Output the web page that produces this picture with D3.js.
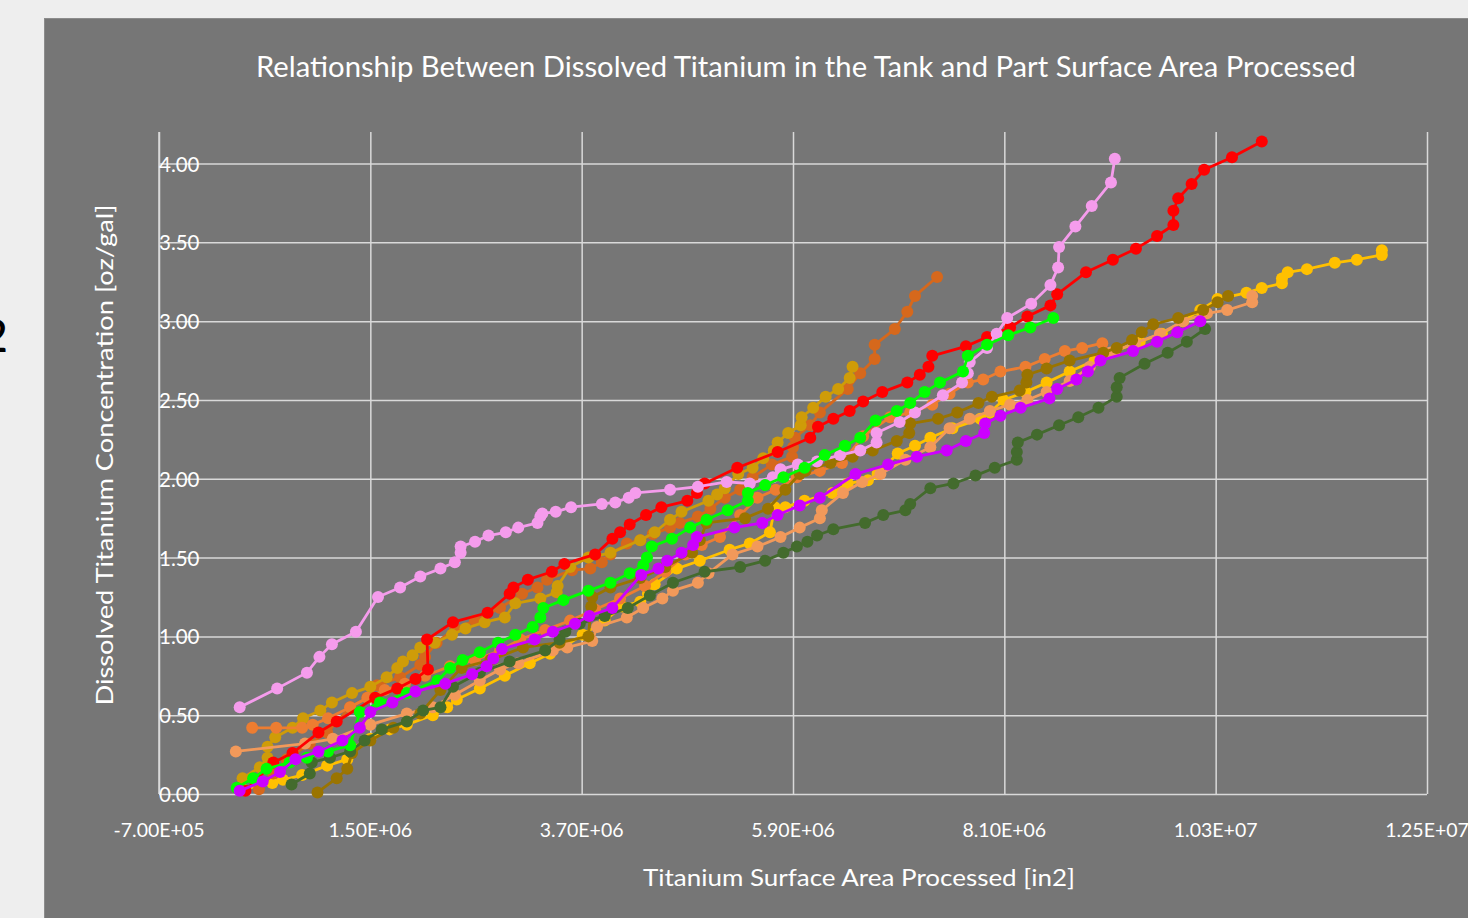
<!DOCTYPE html>
<html>
<head>
<meta charset="utf-8">
<script src="https://cdn.jsdelivr.net/npm/d3@7"></script>
<style>
  html, body { margin: 0; padding: 0; background: #eeeeee; }
  svg { display: block; }
  text { font-family: Lato, "Open Sans", sans-serif; }
</style>
</head>
<body>
<svg id="chart" width="1468" height="918"></svg>
<script>
// ---------------- DATA (x in millions of in2, y in oz/gal) ----------------
const chartTitle = "Relationship Between Dissolved Titanium in the Tank and Part Surface Area Processed";
const xAxisTitle = "Titanium Surface Area Processed [in2]";
const yAxisTitle = "Dissolved Titanium Concentration [oz/gal]";

const xTickValues = [-0.7e6, 1.5e6, 3.7e6, 5.9e6, 8.1e6, 10.3e6, 12.5e6];
const xTickLabels = ["-7.00E+05", "1.50E+06", "3.70E+06", "5.90E+06", "8.10E+06", "1.03E+07", "1.25E+07"];
const yTickValues = [0, 0.5, 1.0, 1.5, 2.0, 2.5, 3.0, 3.5, 4.0];
const yTickLabels = ["0.00", "0.50", "1.00", "1.50", "2.00", "2.50", "3.00", "3.50", "4.00"];

const darkOrangeData = [[0.34,0.03],[0.49,0.13],[0.63,0.22],[0.87,0.32],[1.05,0.39],[1.29,0.55],[1.47,0.61],[1.57,0.69],[1.81,0.74],[2.02,0.82],[2.07,0.87],[2.19,0.96],[2.38,1.05],[2.59,1.10],[2.85,1.18],[3.08,1.27],[3.24,1.31],[3.34,1.36],[3.60,1.42],[3.79,1.43],[3.91,1.47],[4.00,1.52],[4.17,1.59],[4.31,1.61],[4.44,1.65],[4.62,1.69],[4.72,1.72],[4.91,1.76],[5.04,1.81],[5.19,1.88],[5.35,1.93],[5.48,2.01],[5.68,2.09],[5.89,2.14],[5.90,2.20],[5.92,2.26],[6.08,2.34],[6.18,2.42],[6.47,2.57],[6.60,2.67],[6.75,2.76],[6.75,2.85],[6.96,2.95],[7.09,3.06],[7.17,3.16],[7.40,3.28]];

const goldData = [[0.17,0.10],[0.35,0.17],[0.43,0.23],[0.43,0.30],[0.51,0.36],[0.69,0.42],[0.80,0.48],[0.98,0.53],[1.10,0.58],[1.31,0.64],[1.50,0.68],[1.67,0.74],[1.78,0.80],[1.84,0.84],[1.94,0.88],[2.02,0.93],[2.17,0.96],[2.35,1.01],[2.49,1.05],[2.69,1.09],[2.90,1.12],[3.01,1.21],[3.27,1.24],[3.44,1.28],[3.45,1.32],[3.58,1.44],[3.77,1.50],[4.00,1.53],[4.31,1.61],[4.46,1.66],[4.62,1.74],[4.74,1.79],[5.02,1.86],[5.11,1.90],[5.19,1.94],[5.33,2.03],[5.48,2.07],[5.59,2.13],[5.70,2.18],[5.74,2.23],[5.85,2.29],[5.98,2.34],[5.99,2.39],[6.11,2.45],[6.24,2.52],[6.37,2.57],[6.49,2.64],[6.52,2.71]];

const orangeData = [[0.27,0.42],[0.52,0.42],[0.79,0.42],[0.90,0.44],[1.06,0.48],[1.29,0.55],[1.47,0.61],[1.65,0.66],[1.86,0.70],[2.07,0.75],[2.33,0.81],[2.59,0.85],[2.85,0.91],[3.06,0.98],[3.32,1.04],[3.58,1.10],[3.84,1.17],[4.10,1.24],[4.36,1.32],[4.57,1.41],[4.78,1.52],[4.95,1.58],[5.14,1.63],[5.35,1.77],[5.53,1.88],[5.72,1.93],[5.94,2.01],[6.18,2.05],[6.41,2.10],[6.63,2.27],[6.91,2.39],[7.12,2.42],[7.35,2.47],[7.53,2.54],[7.72,2.61],[7.88,2.63],[8.06,2.68],[8.32,2.71],[8.52,2.76],[8.73,2.81],[8.91,2.83],[9.12,2.86]];

const salmonData = [[0.10,0.27],[0.82,0.32],[1.11,0.35],[1.50,0.44],[1.88,0.51],[2.15,0.55],[2.38,0.63],[2.64,0.72],[2.85,0.79],[3.04,0.83],[3.40,0.91],[3.55,0.93],[3.81,0.97],[3.86,1.06],[4.17,1.12],[4.34,1.18],[4.54,1.24],[4.65,1.29],[4.91,1.34],[5.02,1.40],[5.27,1.52],[5.53,1.57],[5.77,1.63],[5.97,1.69],[6.18,1.75],[6.20,1.80],[6.42,1.91],[6.62,1.98],[6.81,2.03],[7.07,2.12],[7.33,2.20],[7.53,2.32],[7.74,2.38],[7.95,2.43],[8.16,2.47],[8.34,2.50],[8.54,2.55],[8.78,2.62],[8.99,2.71],[9.20,2.80],[9.46,2.86],[9.72,2.92],[9.96,3.00],[10.21,3.05],[10.42,3.07],[10.68,3.12],[10.68,3.16]];

const oliveData = [[0.95,0.01],[1.15,0.10],[1.26,0.16],[1.31,0.26],[1.50,0.34],[1.74,0.42],[2.02,0.51],[2.23,0.66],[2.45,0.80],[2.75,0.85],[3.09,0.93],[3.47,0.96],[3.77,1.00],[3.80,1.19],[3.81,1.25],[4.00,1.31],[4.31,1.37],[4.57,1.44],[4.85,1.53],[4.93,1.61],[5.00,1.72],[5.40,1.75],[5.64,1.81],[5.82,1.93],[5.97,2.03],[6.03,2.05],[6.29,2.10],[6.52,2.14],[6.73,2.18],[6.98,2.24],[7.11,2.29],[7.12,2.35],[7.41,2.38],[7.61,2.42],[7.83,2.48],[7.97,2.52],[8.26,2.56],[8.33,2.61],[8.34,2.66],[8.54,2.70],[8.78,2.75],[9.13,2.80],[9.27,2.83],[9.43,2.88],[9.53,2.93],[9.65,2.98],[9.91,3.02],[10.17,3.07],[10.32,3.12],[10.43,3.16]];

const darkGreenData = [[0.68,0.06],[0.87,0.13],[0.89,0.20],[1.08,0.23],[1.29,0.27],[1.44,0.34],[1.62,0.41],[1.88,0.46],[2.05,0.53],[2.23,0.55],[2.36,0.68],[2.64,0.77],[2.95,0.84],[3.32,0.91],[3.47,0.98],[3.53,1.03],[3.68,1.08],[3.94,1.13],[4.18,1.18],[4.41,1.26],[4.65,1.34],[4.98,1.41],[5.35,1.44],[5.61,1.48],[5.80,1.53],[5.94,1.57],[6.05,1.60],[6.15,1.64],[6.32,1.68],[6.65,1.72],[6.84,1.77],[7.07,1.80],[7.12,1.84],[7.33,1.94],[7.57,1.97],[7.80,2.02],[8.00,2.07],[8.23,2.12],[8.23,2.17],[8.24,2.23],[8.44,2.28],[8.67,2.34],[8.87,2.39],[9.08,2.45],[9.27,2.52],[9.27,2.58],[9.30,2.64],[9.56,2.73],[9.80,2.80],[10.00,2.87],[10.19,2.95]];

const yellowData = [[0.17,0.03],[0.48,0.07],[0.59,0.09],[0.79,0.12],[1.05,0.18],[1.26,0.22],[1.31,0.29],[1.50,0.35],[1.70,0.41],[1.88,0.44],[2.15,0.50],[2.30,0.55],[2.40,0.60],[2.64,0.67],[2.90,0.75],[3.16,0.83],[3.37,0.89],[3.53,0.94],[3.71,1.01],[3.94,1.10],[4.12,1.19],[4.31,1.22],[4.39,1.27],[4.46,1.33],[4.69,1.43],[4.93,1.48],[5.24,1.55],[5.45,1.59],[5.66,1.66],[5.71,1.82],[5.82,1.82],[6.02,1.86],[6.31,1.91],[6.47,1.97],[6.68,1.99],[6.78,2.03],[6.99,2.16],[7.17,2.21],[7.33,2.26],[7.56,2.32],[7.85,2.38],[7.95,2.42],[8.09,2.50],[8.32,2.55],[8.54,2.61],[8.78,2.68],[9.04,2.75],[9.25,2.81],[9.51,2.87],[9.74,2.92],[9.96,3.00],[10.14,3.07],[10.32,3.14],[10.62,3.18],[10.78,3.21],[10.99,3.24],[10.99,3.27],[11.05,3.31],[11.25,3.33],[11.54,3.37],[11.77,3.39],[12.03,3.42],[12.03,3.45]];

const redData = [[0.20,0.02],[0.49,0.20],[0.69,0.26],[0.96,0.39],[1.15,0.46],[1.55,0.61],[1.78,0.67],[1.97,0.73],[2.10,0.79],[2.09,0.98],[2.36,1.09],[2.72,1.15],[2.95,1.27],[2.99,1.31],[3.14,1.36],[3.39,1.41],[3.52,1.46],[3.84,1.52],[4.02,1.62],[4.10,1.66],[4.20,1.71],[4.37,1.77],[4.53,1.82],[4.80,1.86],[4.90,1.91],[4.98,1.97],[5.32,2.07],[5.74,2.17],[6.08,2.26],[6.16,2.33],[6.32,2.38],[6.49,2.43],[6.63,2.49],[6.83,2.55],[7.09,2.61],[7.22,2.66],[7.31,2.71],[7.35,2.78],[7.70,2.84],[7.92,2.90],[8.16,2.96],[8.34,3.03],[8.58,3.10],[8.65,3.17],[8.95,3.31],[9.23,3.39],[9.47,3.46],[9.69,3.54],[9.86,3.61],[9.86,3.70],[9.91,3.78],[10.05,3.87],[10.18,3.96],[10.47,4.04],[10.78,4.14]];

const pinkData = [[0.14,0.55],[0.53,0.67],[0.84,0.77],[0.97,0.87],[1.10,0.95],[1.35,1.03],[1.58,1.25],[1.81,1.31],[2.02,1.38],[2.23,1.43],[2.38,1.47],[2.44,1.53],[2.44,1.57],[2.59,1.60],[2.73,1.64],[2.91,1.66],[3.04,1.69],[3.24,1.72],[3.27,1.76],[3.29,1.78],[3.43,1.79],[3.59,1.82],[3.91,1.84],[4.05,1.85],[4.19,1.88],[4.26,1.91],[4.62,1.93],[4.91,1.95],[5.21,1.98],[5.45,1.97],[5.69,2.01],[5.77,2.06],[5.95,2.09],[6.15,2.11],[6.39,2.15],[6.60,2.18],[6.77,2.23],[6.77,2.29],[7.01,2.36],[7.17,2.42],[7.46,2.53],[7.66,2.61],[7.72,2.67],[7.74,2.74],[7.92,2.83],[8.02,2.92],[8.13,3.02],[8.38,3.11],[8.58,3.23],[8.66,3.34],[8.67,3.47],[8.84,3.60],[9.01,3.73],[9.21,3.88],[9.25,4.03]];

const greenData = [[0.11,0.04],[0.28,0.10],[0.42,0.16],[0.66,0.20],[0.84,0.23],[1.06,0.27],[1.29,0.31],[1.39,0.52],[1.60,0.58],[1.88,0.64],[2.20,0.72],[2.33,0.80],[2.46,0.85],[2.64,0.90],[2.83,0.96],[3.01,1.01],[3.19,1.06],[3.27,1.12],[3.30,1.18],[3.51,1.23],[3.77,1.29],[4.00,1.34],[4.20,1.40],[4.34,1.45],[4.38,1.50],[4.43,1.57],[4.64,1.62],[4.83,1.69],[5.00,1.74],[5.22,1.80],[5.43,1.86],[5.43,1.91],[5.61,1.96],[5.80,2.01],[6.02,2.07],[6.23,2.15],[6.44,2.21],[6.60,2.26],[6.76,2.37],[6.98,2.43],[7.12,2.48],[7.27,2.55],[7.43,2.61],[7.67,2.68],[7.72,2.78],[7.92,2.85],[8.14,2.91],[8.37,2.96],[8.61,3.02]];

const purpleData = [[0.14,0.02],[0.38,0.08],[0.56,0.14],[0.72,0.22],[0.96,0.27],[1.21,0.34],[1.39,0.42],[1.50,0.52],[1.73,0.58],[1.97,0.65],[2.28,0.70],[2.56,0.76],[2.71,0.81],[2.78,0.86],[2.87,0.92],[3.21,0.98],[3.40,1.03],[3.63,1.08],[3.78,1.13],[4.02,1.18],[4.32,1.39],[4.50,1.43],[4.59,1.48],[4.74,1.53],[4.86,1.58],[4.90,1.63],[5.29,1.69],[5.58,1.72],[5.74,1.77],[5.97,1.83],[6.18,1.88],[6.55,2.03],[6.89,2.09],[7.19,2.14],[7.50,2.18],[7.70,2.24],[7.89,2.29],[7.90,2.35],[8.06,2.40],[8.27,2.45],[8.57,2.51],[8.65,2.57],[8.85,2.63],[8.97,2.68],[9.10,2.75],[9.44,2.81],[9.69,2.87],[9.90,2.93],[10.14,3.00]];

const seriesNames = ["yellow","darkOrange","gold","orange","salmon","olive","darkGreen","red","pink","green","purple"];
const seriesData = [yellowData, darkOrangeData, goldData, orangeData, salmonData, oliveData, darkGreenData, redData, pinkData, greenData, purpleData];
const seriesColors = ["#ffc000","#d6681c","#cf9c08","#ed7d31","#f2995a","#9a7400","#436b2d","#ff0000","#f59cec","#00ff00","#cc00ff"];

// ---------------- DRAWING ----------------
const svg = d3.select("#chart");

// left-edge stray glyph (partly outside the picture, as in the original)
svg.append("text").attr("x", 8).attr("y", 352).attr("text-anchor", "end")
  .attr("font-size", 46).attr("font-weight", 500).attr("fill", "#000").text("2");

// panel
svg.append("rect").attr("x", 44.5).attr("y", 18.5).attr("width", 1440).attr("height", 920)
  .attr("fill", "#767676").attr("stroke", "#8c8c8c").attr("stroke-width", 1);

const x = d3.scaleLinear().domain([-0.7e6, 12.5e6]).range([159, 1427]);
const y = d3.scaleLinear().domain([0, 4.2]).range([794, 132]);

// gridlines via axes
const gx = svg.append("g").attr("transform", "translate(0,794)")
  .call(d3.axisBottom(x).tickValues(xTickValues).tickSize(-(794 - 132)).tickFormat(""));
gx.select(".domain").remove();
gx.selectAll(".tick line").attr("stroke", "#d9d9d9").attr("stroke-width", 1.5);

const gy = svg.append("g").attr("transform", "translate(159,0)")
  .call(d3.axisLeft(y).tickValues(yTickValues).tickSize(-(1427 - 159)).tickFormat(""));
gy.select(".domain").remove();
gy.selectAll(".tick line").attr("stroke", "#d9d9d9").attr("stroke-width", 1.5);

svg.append("line").attr("x1", 159).attr("x2", 159).attr("y1", 132).attr("y2", 794)
  .attr("stroke", "#d9d9d9").attr("stroke-width", 1.5);

// series
const line = d3.line().x(d => x(d[0] * 1e6)).y(d => y(d[1]));
seriesData.forEach((data, i) => {
  const g = svg.append("g").attr("class", "series-" + seriesNames[i]);
  g.append("path").datum(data).attr("d", line).attr("fill", "none")
    .attr("stroke", seriesColors[i]).attr("stroke-width", 2.8).attr("stroke-linejoin", "round");
  g.selectAll("circle").data(data).join("circle")
    .attr("cx", d => x(d[0] * 1e6)).attr("cy", d => y(d[1])).attr("r", 6)
    .attr("fill", seriesColors[i]);
});

// y tick labels (drawn just right of the axis, as in the original)
svg.append("g").selectAll("text").data(yTickValues).join("text")
  .attr("x", 159).attr("y", d => y(d)).attr("dominant-baseline", "central")
  .attr("font-size", 20.5).attr("fill", "#ffffff")
  .text((d, i) => yTickLabels[i]);

// x tick labels
svg.append("g").selectAll("text").data(xTickValues).join("text")
  .attr("x", d => x(d)).attr("y", 829).attr("dominant-baseline", "central")
  .attr("text-anchor", "middle").attr("font-size", 19.5).attr("fill", "#ffffff")
  .text((d, i) => xTickLabels[i]);

// title
svg.append("text").attr("x", 806).attr("y", 66).attr("dominant-baseline", "central")
  .attr("text-anchor", "middle").attr("font-size", 28).attr("fill", "#ffffff")
  .attr("textLength", 1100).attr("lengthAdjust", "spacingAndGlyphs").text(chartTitle);

// x axis title
svg.append("text").attr("x", 859).attr("y", 876).attr("dominant-baseline", "central")
  .attr("text-anchor", "middle").attr("font-size", 24).attr("fill", "#ffffff")
  .attr("textLength", 432).attr("lengthAdjust", "spacingAndGlyphs").text(xAxisTitle);

// y axis title
svg.append("text").attr("transform", "translate(104,455) rotate(-90)")
  .attr("dominant-baseline", "central").attr("text-anchor", "middle")
  .attr("font-size", 23).attr("fill", "#ffffff")
  .attr("textLength", 501).attr("lengthAdjust", "spacingAndGlyphs").text(yAxisTitle);
</script>
</body>
</html>
